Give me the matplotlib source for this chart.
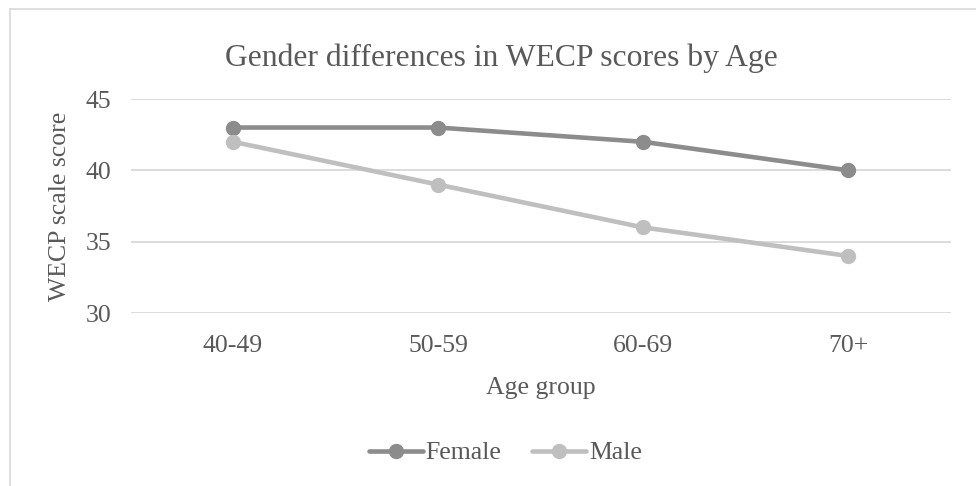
import matplotlib.pyplot as plt
from matplotlib.lines import Line2D

age_groups = ['40-49', '50-59', '60-69', '70+']
female = [43, 43, 42, 40]
male = [42, 39, 36, 34]
y_ticks = [30, 35, 40, 45]

plt.rcParams['font.family'] = ['Liberation Serif', 'DejaVu Serif']
text_color = '#595959'

fig = plt.figure(figsize=(9.76, 4.86), dpi=100)
ax = fig.add_axes([130.5 / 976, 1 - 313 / 486, 820 / 976, 214 / 486])

x = range(len(age_groups))
ax.plot(x, female, color='#8c8c8c', lw=3.3, marker='o', ms=10,
        label='Female', solid_capstyle='round')
ax.plot(x, male, color='#bfbfbf', lw=3.3, marker='o', ms=10,
        label='Male', solid_capstyle='round')

ax.set_xlim(-0.5, len(age_groups) - 0.5)
ax.set_ylim(30, 45)
ax.set_yticks(y_ticks)
ax.set_xticks(list(x))
ax.set_xticklabels(age_groups)
ax.yaxis.grid(True, color='#d9d9d9', lw=1.3)
ax.set_axisbelow(True)
for s in ax.spines.values():
    s.set_visible(False)
ax.tick_params(length=0, labelsize=18.5, labelcolor=text_color, pad=14)
ax.tick_params(axis='x', pad=16)

ax.set_xlabel('Age group', fontsize=18.5, color=text_color, labelpad=14)
ax.set_ylabel('WECP scale score', fontsize=18.5, color=text_color, labelpad=10)
fig.text(0.514, 1 - 58 / 486, 'Gender differences in WECP scores by Age',
         fontsize=22.8, color=text_color, ha='center', va='center')

ax.legend(loc='center', bbox_to_anchor=(0.518, 1 - 453 / 486),
          bbox_transform=fig.transFigure, ncol=2, frameon=False,
          fontsize=18.5, labelcolor=text_color, handlelength=2.1,
          handletextpad=0.1, columnspacing=1.2)

# chart border
fig.add_artist(Line2D([9.5 / 976, 9.5 / 976], [0, 1 - 9.5 / 486],
                      color='#d9d9d9', lw=1.2, transform=fig.transFigure))
fig.add_artist(Line2D([9.5 / 976, 1], [1 - 9.5 / 486, 1 - 9.5 / 486],
                      color='#d9d9d9', lw=1.2, transform=fig.transFigure))

fig.savefig('out.png', dpi=100)
